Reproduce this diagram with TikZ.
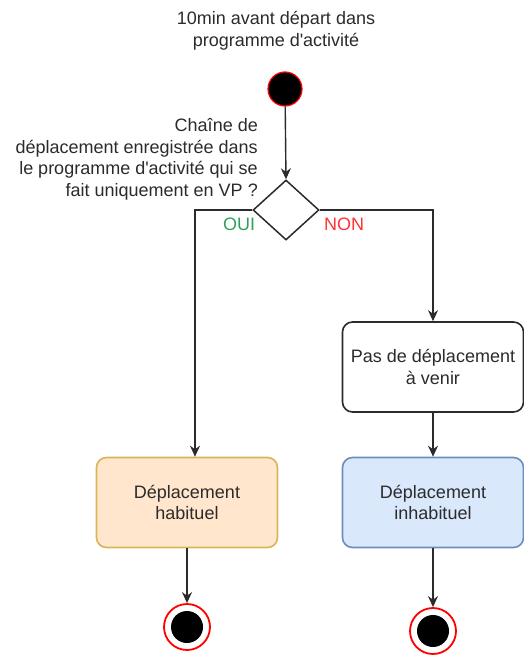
\documentclass[tikz,border=0pt]{standalone}
\usepackage{fontspec}
\setmainfont{Liberation Sans}
\usetikzlibrary{shapes,arrows.meta,positioning,calc}
\definecolor{inkgray}{HTML}{2B2B2B}
\definecolor{okgreen}{HTML}{2DA05A}
\definecolor{nored}{HTML}{FF3333}
\definecolor{peachfill}{HTML}{FFE6CC}
\definecolor{peachline}{HTML}{D6B656}
\definecolor{skyfill}{HTML}{DAE8FC}
\definecolor{skyline}{HTML}{6C8EBF}

\tikzset{
  txt/.style={font=\fontsize{18}{21.6}\selectfont, text=inkgray, align=center, inner sep=0pt},
  flow/.style={draw=inkgray, line width=1.4pt, -{Stealth[length=11pt,width=10pt]}},
  startdot/.style={circle, fill=black, draw=red, line width=1.2pt, minimum size=34pt, inner sep=0pt},
  enddot/.style={circle, fill=white, draw=red, line width=1.8pt, minimum size=46pt, inner sep=0pt,
    path picture={\fill[black] (path picture bounding box.center) circle (16);}},
  choice/.style={diamond, draw=inkgray, line width=1.5pt, fill=white, minimum width=66pt, minimum height=60pt, inner sep=0pt},
  stepbox/.style={txt, rectangle, rounded corners=10pt, draw=inkgray, line width=1.6pt, fill=white, minimum width=181pt, minimum height=90pt}
}

\begin{document}
\begin{tikzpicture}[x=1pt,y=-1pt]
% decision flow
\useasboundingbox (0,0) rectangle (524,655);
\node[txt] (title) at (276,31) {10min avant départ dans\\programme d\textquotesingle activité};
\node[startdot] (start) at (285,89) {};
\node[choice] (question) at (286,210) {};
\node[txt, align=right, anchor=east] (asked) at (258,159.5) {Chaîne de\\déplacement enregistrée dans\\le programme d\textquotesingle activité qui se\\fait uniquement en VP ?};
\node[txt, text=okgreen] (yes) at (239,224) {OUI};
\node[txt, text=nored] (no) at (344,224) {NON};
\node[stepbox] (none) at (433,367) {Pas de déplacement\\à venir};
\node[stepbox, draw=peachline, fill=peachfill] (usual) at (187,502.5) {Déplacement\\habituel};
\node[stepbox, draw=skyline, fill=skyfill] (unusual) at (433,502.5) {Déplacement\\inhabituel};
\node[enddot] (stopleft) at (187,627) {};
\node[enddot] (stopright) at (433,631) {};

\draw[flow] (start) -- (question.north);
\draw[flow] (question.west) -| ([xshift=8pt]usual.north);
\draw[flow] (question.east) -| (none.north);
\draw[flow] (none) -- (unusual);
\draw[flow] (usual) -- (stopleft);
\draw[flow] (unusual) -- (stopright);
\end{tikzpicture}
\end{document}
